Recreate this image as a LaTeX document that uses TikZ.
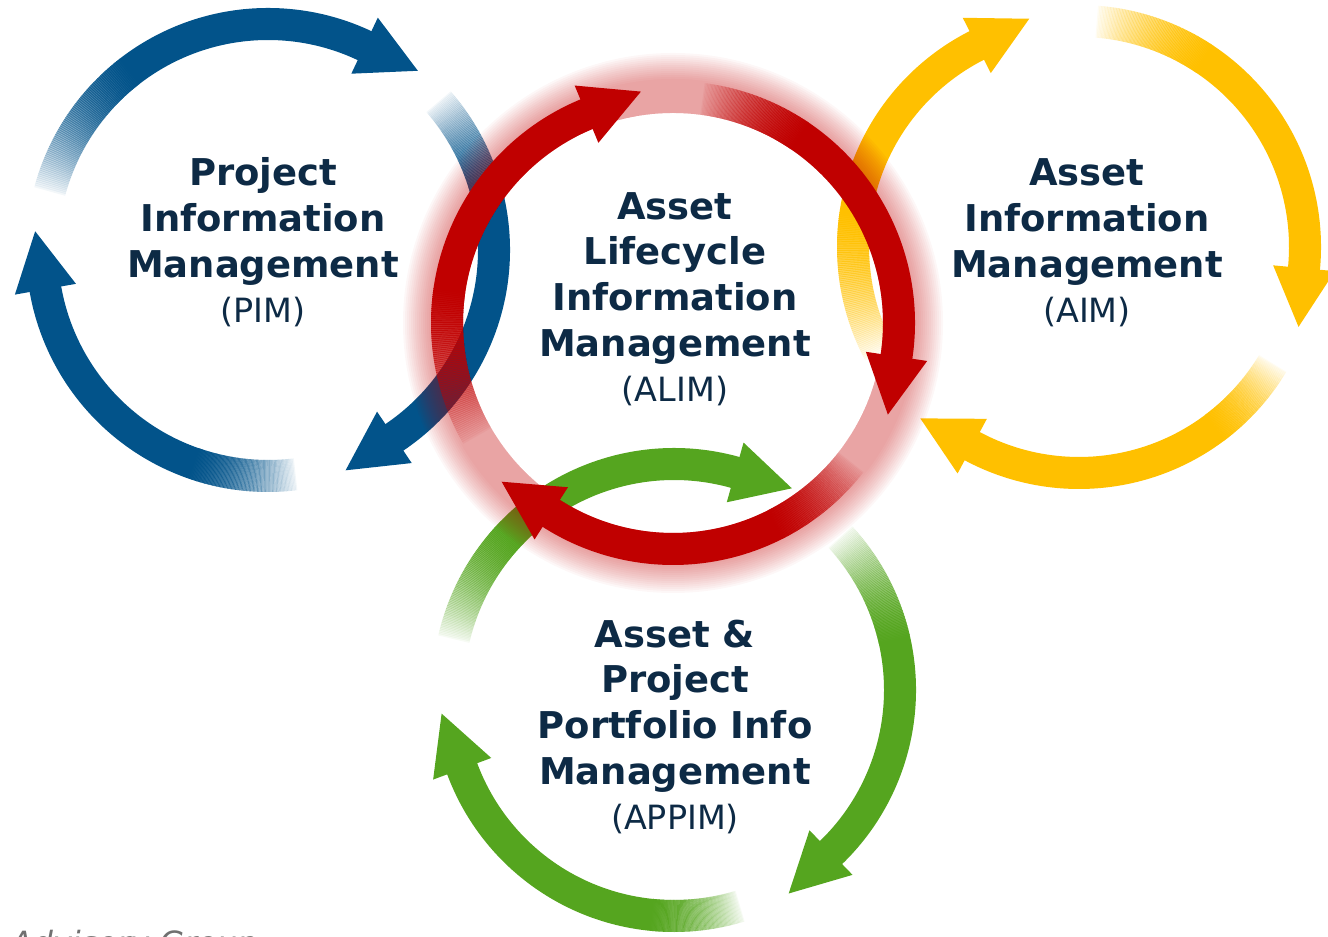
\documentclass[tikz,border=0pt]{standalone}
\usepackage{fontspec}
\setmainfont{DejaVu Sans}
\usetikzlibrary{calc}

\definecolor{pimblue}{HTML}{02538A}
\definecolor{alimred}{HTML}{C00000}
\definecolor{aimyellow}{HTML}{FFC000}
\definecolor{appimgreen}{HTML}{55A51F}
\definecolor{labelnavy}{HTML}{0D2A45}
\definecolor{notegray}{HTML}{707070}

\tikzset{
	ringlabel/.style={align=center, text=labelnavy, anchor=base, inner sep=0pt,
		font=\fontsize{10.5}{13}\selectfont\bfseries},
}

% #1 centre, #2 colour, #3 tail angle, #4 end of the fade, #5 base of the head
\newcommand{\cyclearrow}[5]{%
	\begin{scope}[transparency group=knockout]
	\foreach \k in {0,...,79}{
		\pgfmathsetmacro{\segA}{#3+(#4-#3)*\k/80}
		\pgfmathsetmacro{\segB}{#3+(#4-#3)*(\k+1.6)/80}
		\pgfmathsetmacro{\segOp}{0.04+0.96*(\k+0.5)/80}
		\draw[#2, line width=0.32cm, opacity=\segOp] ($(#1)+(\segA:226)$) arc[start angle=\segA, end angle=\segB, radius=226];
	}
	\end{scope}
	\draw[#2, line width=0.32cm] ($(#1)+(#4:226)$) arc[start angle=#4, end angle=#5-1, radius=226];
	\fill[#2] ($(#1)+(#5:257)$) -- ($(#1)+(#5-14.6:233.6)$) -- ($(#1)+(#5:195)$) -- cycle;
}

\begin{document}
\begin{tikzpicture}[x=0.01cm, y=0.01cm]
	\useasboundingbox (0,0) rectangle (1328,937);
	\coordinate (pim) at (268,687);
	\coordinate (alim) at (673,614);
	\coordinate (aim) at (1079,690);
	\coordinate (appim) at (674,247);

	\cyclearrow{pim}{pimblue}{165}{128}{64.7}
	\cyclearrow{pim}{pimblue}{41}{12}{-56}
	\cyclearrow{pim}{pimblue}{-83}{-109}{-170}

	\cyclearrow{aim}{aimyellow}{208}{172}{116.9}
	\cyclearrow{aim}{aimyellow}{85.5}{56.5}{-5.4}
	\cyclearrow{aim}{aimyellow}{-31}{-53}{-118.2}

	\cyclearrow{appim}{appimgreen}{167}{136}{74.3}
	\cyclearrow{appim}{appimgreen}{42.6}{13}{-46}
	\cyclearrow{appim}{appimgreen}{-73}{-95.5}{-159.6}

	%% soft glow round the red ring
	\foreach \d in {2,4,...,28}
		\draw[alimred, opacity=0.033, line width={(32+\d)*0.01cm}] (alim) circle[radius=226+\d/2];

	\cyclearrow{alim}{alimred}{210}{172}{112.5}
	\cyclearrow{alim}{alimred}{82.5}{56}{-8.5}
	\cyclearrow{alim}{alimred}{-38}{-63}{-122.6}

	\node[ringlabel] (pimtext) at (263,614) {Project\\Information\\Management\\{\fontsize{9.5}{13}\selectfont\mdseries (PIM)}};
	\node[ringlabel] (alimtext) at (675,535) {Asset\\Lifecycle\\Information\\Management\\{\fontsize{9.5}{13}\selectfont\mdseries (ALIM)}};
	\node[ringlabel] (aimtext) at (1087,614) {Asset\\Information\\Management\\{\fontsize{9.5}{13}\selectfont\mdseries (AIM)}};
	\node[ringlabel] (appimtext) at (675,107) {Asset \&\\Project\\Portfolio Info\\Management\\{\fontsize{9.5}{13}\selectfont\mdseries (APPIM)}};

	\node[anchor=base west, inner sep=0pt, text=notegray, font=\fontsize{9.1}{11}\selectfont\itshape] (source) at (10,-18) {Advisory Group};
\end{tikzpicture}
\end{document}
